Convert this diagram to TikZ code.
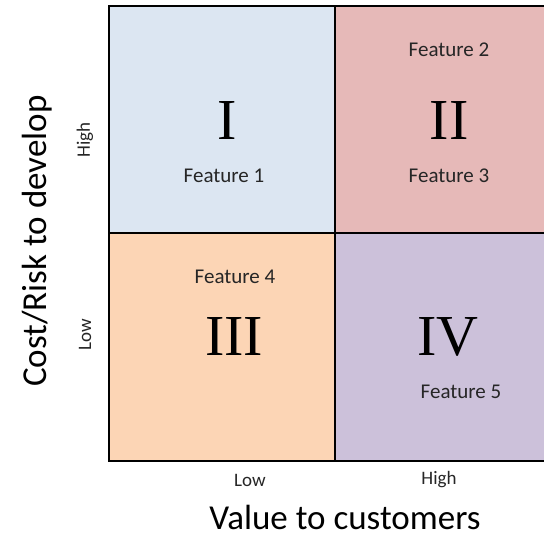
\documentclass[tikz,border=0pt]{standalone}
\usepackage{fontspec}
\setmainfont{Carlito}
\newfontfamily\numfont{Liberation Serif}
\usepackage{tikz}
\definecolor{qone}{RGB}{220,230,242}
\definecolor{qtwo}{RGB}{230,185,184}
\definecolor{qthree}{RGB}{252,213,181}
\definecolor{qfour}{RGB}{204,193,218}
\tikzstyle{quad} = [rectangle, draw=black, line width=1.8pt, inner sep=0pt]
\tikzstyle{roman} = [font=\numfont\fontsize{58}{60}\selectfont]
\tikzstyle{feat} = [font=\fontsize{21}{24}\selectfont, text=black!85]
\tikzstyle{level} = [font=\fontsize{19}{22}\selectfont, text=black!85]
\tikzstyle{axis} = [font=\fontsize{35}{40}\selectfont, inner sep=0pt]

\begin{document}
\begin{tikzpicture}[x=1pt, y=1pt]
    \useasboundingbox (0,0) rectangle (544,539);
    \node (q1) [quad, fill=qone, minimum width=226pt, minimum height=227pt] at (222,419.5) {};
    \node (q2) [quad, fill=qtwo, minimum width=216pt, minimum height=227pt] at (443,419.5) {};
    \node (q3) [quad, fill=qthree, minimum width=226pt, minimum height=228pt] at (222,192) {};
    \node (q4) [quad, fill=qfour, minimum width=216pt, minimum height=228pt] at (443,192) {};
    \node (r1) [roman] at (227,418) {I};
    \node (r2) [roman] at (449,418) {II};
    \node (r3) [roman] at (234,202) {III};
    \node (r4) [roman] at (448,202) {IV};
    \node (f1) [feat] at (224,363) {Feature 1};
    \node (f2) [feat] at (449,489) {Feature 2};
    \node (f3) [feat] at (449,363) {Feature 3};
    \node (f4) [feat] at (235,262) {Feature 4};
    \node (f5) [feat] at (461,147) {Feature 5};
    \node (xlow) [level] at (250,59) {Low};
    \node (xhigh) [level] at (439,59) {High};
    \node (ylow) [level, rotate=90] at (85,204) {Low};
    \node (yhigh) [level, rotate=90] at (85,399) {High};
    \node (xlabel) [axis] at (345,22) {Value to customers};
    \node (ylabel) [axis, rotate=90] at (37,298) {Cost/Risk to develop};
\end{tikzpicture}
\end{document}
